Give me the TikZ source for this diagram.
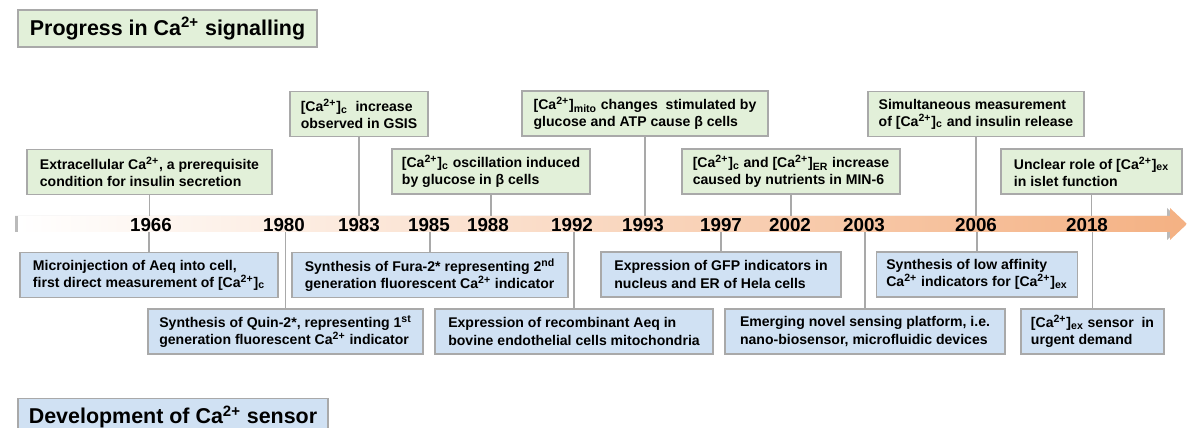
\documentclass[tikz,border=0pt]{standalone}
\usepackage{fontspec}
\setmainfont{Liberation Sans}
\usetikzlibrary{shadows, positioning}
\newcommand{\caion}{Ca\textsuperscript{2+}}
\newcommand{\cabr}[1]{[\caion]\textsubscript{#1}}
\definecolor{boxgreen}{HTML}{E2F0D9}
\definecolor{boxblue}{HTML}{D0E1F3}
\definecolor{boxline}{HTML}{A9A9A9}
\definecolor{barorange}{HTML}{F4B183}

\begin{document}
\begin{tikzpicture}[x=0.02cm, y=-0.02cm,
  box/.style={draw=boxline, line width=0.7pt, font=\fontsize{8}{9.7}\selectfont\bfseries, align=left, inner xsep=0.2cm, minimum height=0.9cm, minimum width=#1},
  greenbox/.style={box=#1, fill=boxgreen},
  bluebox/.style={box=#1, fill=boxblue},
  headbox/.style={draw=boxline, line width=0.7pt, font=\fontsize{12.2}{14}\selectfont\bfseries, align=left, inner xsep=0.2cm, minimum height=0.74cm, minimum width=#1},
  yr/.style={font=\fontsize{10.7}{12}\selectfont\bfseries, inner sep=0pt},
  conn/.style={draw=boxline, line width=0.8pt}]
  \clip (0,0) rectangle (1187,428);
  \node[headbox=5.98cm, fill=boxgreen] (progress) at (167.5,28.5) {Progress in \caion{} signalling};
  \node[headbox=6.20cm, fill=boxblue] (develop) at (173,417) {Development of \caion{} sensor};

  \path[drop shadow={shadow xshift=-0.06cm, shadow yshift=0cm, opacity=.45, fill=black!60}, left color=white, right color=barorange]
    (18,216) -- (1170,216) -- (1170,208) -- (1187,224) -- (1170,240) -- (1170,232) -- (18,232) -- cycle;
  \coordinate (barN) at (0,216);
  \coordinate (barS) at (0,232);

  \node[greenbox=4.90cm] (extra) at (149.5,172) {Extracellular \caion, a prerequisite\\condition for insulin secretion};
  \node[greenbox=2.76cm] (gsis) at (359,114) {\cabr{c}\ \ increase\\observed in GSIS};
  \node[greenbox=3.96cm] (osc) at (491,171.5) {\cabr{c} oscillation induced\\by glucose in β cells};
  \node[greenbox=4.92cm] (mito) at (645,113.5) {\cabr{mito} changes\ \ stimulated by\\glucose and ATP cause β cells};
  \node[greenbox=4.36cm] (er) at (791,171.5) {\cabr{c} and \cabr{ER} increase\\caused by nutrients in MIN-6};
  \node[greenbox=4.32cm] (simul) at (976,114) {Simultaneous measurement\\of \cabr{c} and insulin release};
  \node[greenbox=3.62cm] (unclear) at (1091.5,171.5) {Unclear role of \cabr{ex}\\in islet function};

  \node[bluebox=5.16cm] (micro) at (149,275) {Microinjection of Aeq into cell,\\first direct measurement of \cabr{c}};
  \node[bluebox=5.50cm] (quin) at (285.5,331.5) {Synthesis of Quin-2*, representing 1\textsuperscript{st}\\generation fluorescent \caion{} indicator};
  \node[bluebox=5.52cm] (fura) at (430,275) {Synthesis of Fura-2* representing 2\textsuperscript{nd}\\generation fluorescent \caion{} indicator};
  \node[bluebox=5.56cm] (recomb) at (574,331.5) {Expression of recombinant Aeq in\\bovine endothelial cells mitochondria};
  \node[bluebox=4.80cm] (gfp) at (721,274.5) {Expression of GFP indicators in\\nucleus and ER of Hela cells};
  \node[bluebox=5.60cm] (emerg) at (865,331.5) {Emerging novel sensing platform, i.e.\\nano-biosensor, microfluidic devices};
  \node[bluebox=3.96cm] (lowaff) at (977,274.5) {Synthesis of low affinity\\\caion{} indicators for \cabr{ex}};
  \node[bluebox=2.86cm] (urgent) at (1092.5,331.5) {\cabr{ex} sensor\ \ in\\urgent demand};

  \foreach \b in {extra, gsis, osc, mito, er, simul, unclear}
    \draw[conn] (\b.south) -- (\b.south |- barN);
  \foreach \b in {micro, quin, fura, recomb, gfp, emerg, lowaff, urgent}
    \draw[conn] (\b.north) -- (\b.north |- barS);

  \foreach \x/\y in {151/1966, 284/1980, 359/1983, 429/1985, 488/1988, 572/1992, 643/1993, 721/1997, 790/2002, 864/2003, 976/2006, 1087/2018}
    \node[yr] (y\y) at (\x,225) {\y};
\end{tikzpicture}
\end{document}
